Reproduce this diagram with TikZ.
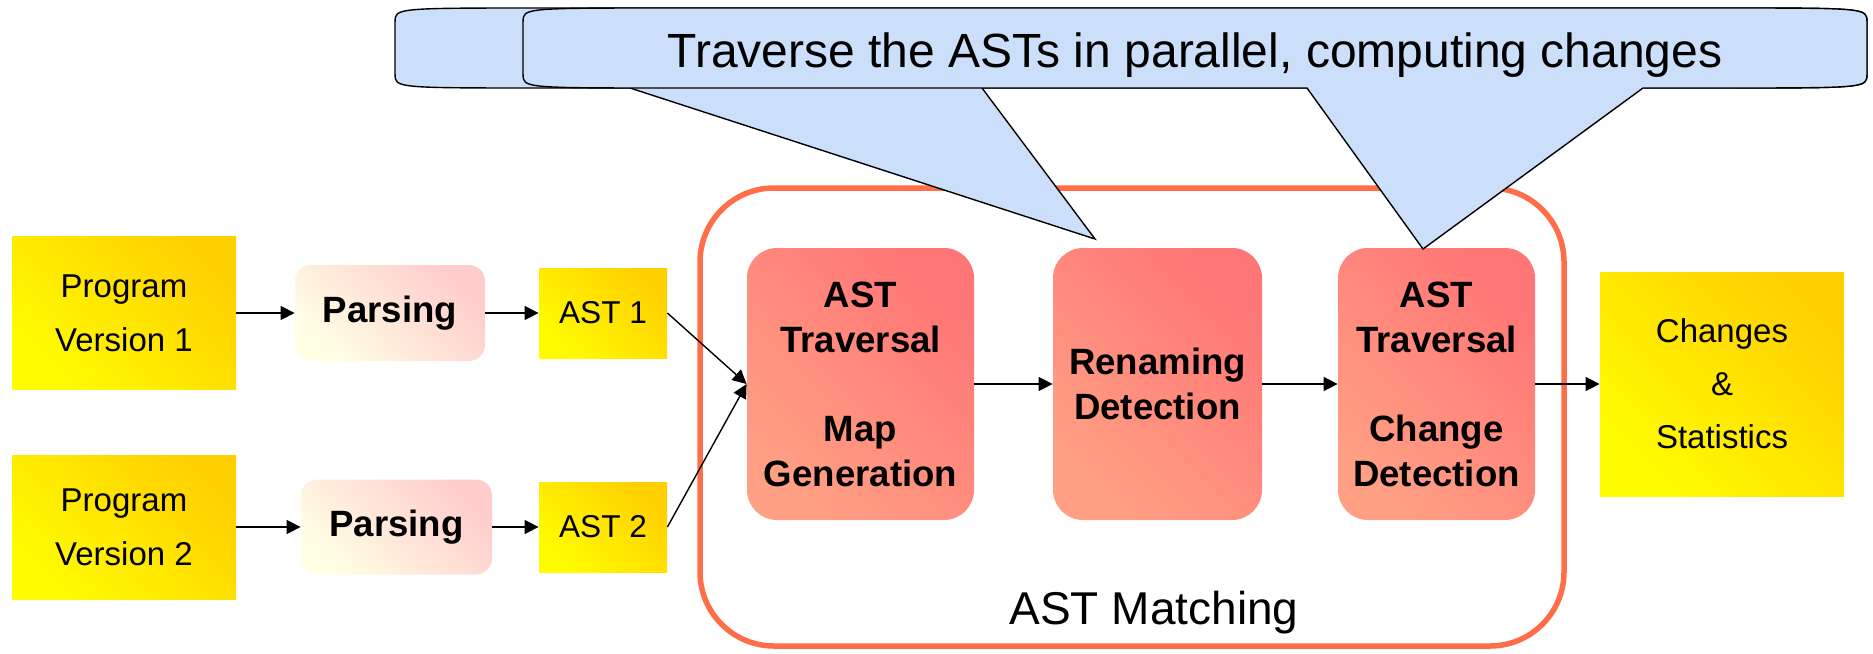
\documentclass[tikz,border=0pt]{standalone}
\usepackage{fontspec}
\setmainfont{Liberation Sans}
\usetikzlibrary{arrows.meta}

\definecolor{calloutblue}{RGB}{204,223,250}
\definecolor{matchred}{RGB}{255,110,72}
\definecolor{yellowlow}{RGB}{255,252,0}
\definecolor{yellowhigh}{RGB}{255,208,0}
\definecolor{parselow}{RGB}{255,255,228}
\definecolor{parsehigh}{RGB}{255,204,204}
\definecolor{steplow}{RGB}{255,160,132}
\definecolor{stephigh}{RGB}{255,118,118}

\begin{document}
\begin{tikzpicture}[x=0.5pt, y=-0.5pt,
  yellowbox/.style={rectangle, inner sep=0pt, align=center, top color=yellowhigh, bottom color=yellowlow, shading angle=-45},
  parsebox/.style={rectangle, rounded corners=8pt, inner sep=0pt, align=center, top color=parsehigh, bottom color=parselow, shading angle=-45},
  stepbox/.style={rectangle, rounded corners=15pt, inner sep=0pt, align=center, minimum height=136pt, top color=stephigh, bottom color=steplow, shading angle=-45},
  flow/.style={line width=0.7pt, -{Triangle[length=7pt,width=7pt]}},
  callout/.style={draw=black, line width=0.7pt, fill=calloutblue}]
\def\pvfont{\fontsize{16.5}{27}\selectfont}
\def\parsefont{\fontsize{18.3}{22}\selectfont\bfseries}
\def\astfont{\fontsize{15.8}{19}\selectfont}
\def\stepfont{\fontsize{18.3}{22.5}\selectfont\bfseries}
\useasboundingbox (0,0) rectangle (1873,653);

% MATCHING FRAME
\node[draw=matchred, line width=2.75pt, rounded corners=37pt, minimum width=432pt, minimum height=229pt] (match) at (1132,417) {};
\node[font=\fontsize{23}{27}\selectfont] (matchlabel) at (1154,613) {AST Matching};

% FIRST ROW
\node[yellowbox, minimum width=112pt, minimum height=76.5pt, font=\pvfont] (pv1) at (124,313) {Program\\Version 1};
\node[parsebox, minimum width=95pt, minimum height=48pt, font=\parsefont] (parse1) at (390,313) {Parsing};
\node[yellowbox, minimum width=64pt, minimum height=45pt, font=\astfont] (ast1) at (603,313) {AST 1};

% SECOND ROW
\node[yellowbox, minimum width=112pt, minimum height=72pt, font=\pvfont] (pv2) at (124,527) {Program\\Version 2};
\node[parsebox, minimum width=95.5pt, minimum height=47.5pt, font=\parsefont] (parse2) at (396.5,527) {Parsing};
\node[yellowbox, minimum width=64pt, minimum height=45pt, font=\astfont] (ast2) at (603,527) {AST 2};

% MATCHING STEPS
\node[stepbox, minimum width=113.5pt, font=\stepfont] (mapgen) at (860.5,384) {AST\\Traversal\\[22pt]Map\\Generation};
\node[stepbox, minimum width=104.5pt, font=\stepfont] (rename) at (1157.5,384) {Renaming\\Detection};
\node[stepbox, minimum width=98.5pt, font=\stepfont] (changedet) at (1436.5,384) {AST\\Traversal\\[22pt]Change\\Detection};

% RESULT
\node[yellowbox, minimum width=122pt, minimum height=112pt, font=\fontsize{16.5}{26.5}\selectfont] (stats) at (1722,384) {Changes\\\&\\Statistics};

% ARROWS
\draw[flow] (pv1.east) -- (parse1.west);
\draw[flow] (parse1.east) -- (ast1.west);
\draw[flow] (pv2.east) -- (parse2.west);
\draw[flow] (parse2.east) -- (ast2.west);
\draw[flow] (ast1.east) -- (mapgen.west);
\draw[flow] (ast2.east) -- (mapgen.west);
\draw[flow] (mapgen.east) -- (rename.west);
\draw[flow] (rename.east) -- (changedet.west);
\draw[flow] (changedet.east) -- (stats.west);

% CALLOUTS
\draw[callout] (395,22) .. controls (395,8) .. (545,8) -- (1717,8) .. controls (1867,8) .. (1867,22) -- (1867,74) .. controls (1867,88) .. (1717,88) -- (982,88) -- (1095,239) -- (630,88) -- (545,88) .. controls (395,88) .. (395,74) -- cycle;
\draw[callout] (523,22) .. controls (523,8) .. (673,8) -- (1717,8) .. controls (1867,8) .. (1867,22) -- (1867,74) .. controls (1867,88) .. (1717,88) -- (1643,88) -- (1423,249) -- (1307,88) -- (673,88) .. controls (523,88) .. (523,74) -- cycle;
\node[anchor=base, font=\fontsize{24}{28}\selectfont] (calltext) at (1195,67) {Traverse the ASTs in parallel, computing changes};
\end{tikzpicture}
\end{document}
